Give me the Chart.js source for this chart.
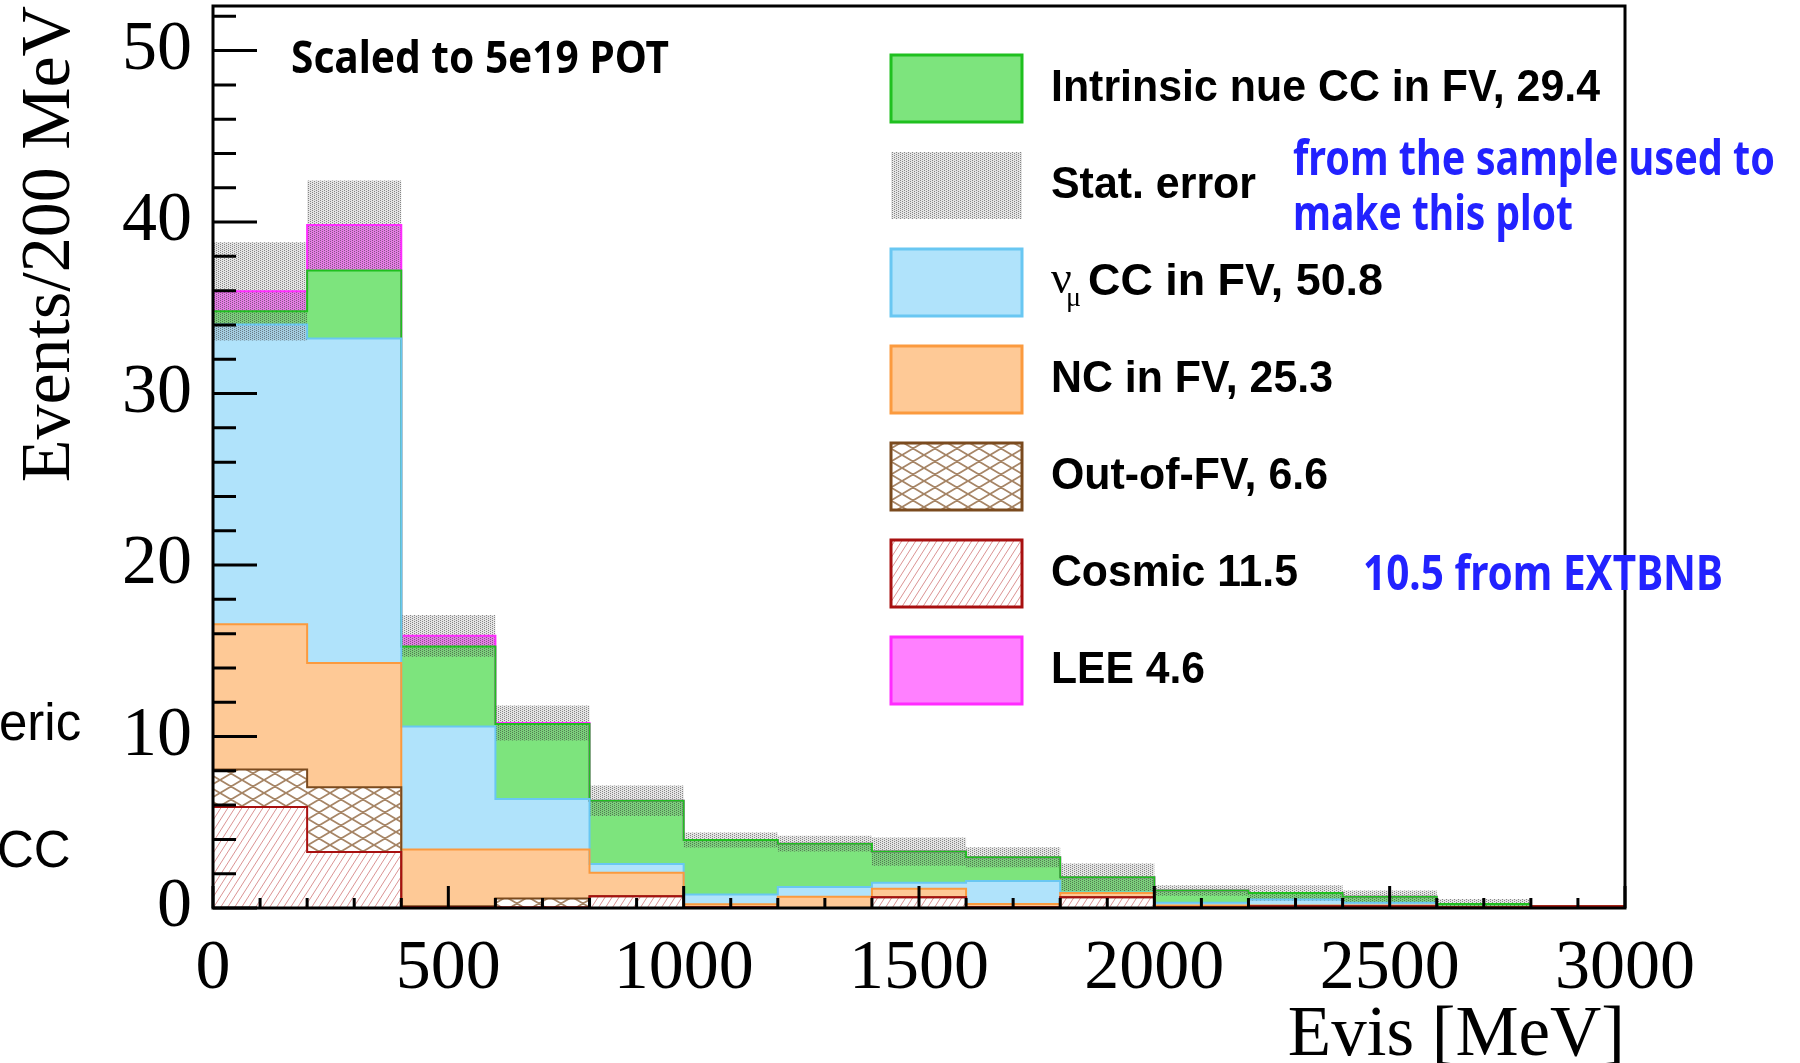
<!DOCTYPE html>
<html>
<head>
<meta charset="utf-8">
<title>Evis stacked histogram</title>
<script src="https://cdn.jsdelivr.net/npm/chart.js@4.4.1/dist/chart.umd.min.js"></script>
<style>
    html, body { margin: 0; padding: 0; background: #fff; }
    #wrap { width: 1800px; height: 1063px; }
</style>
</head>
<body>
<div id="wrap"><canvas id="evisChart" width="1800" height="1063"></canvas></div>
<script>
// 200 MeV bins from 0 to 3000 MeV
const binEdges = [0, 200, 400, 600, 800, 1000, 1200, 1400, 1600, 1800, 2000, 2200, 2400, 2600, 2800, 3000];

// Events per bin for each component (scaled to 5e19 POT), bottom of the stack first
const cosmic  = [5.89, 3.27, 0.05, 0.05, 0.69, 0.05, 0.00, 0.63, 0.05, 0.63, 0.05, 0.10, 0.10, 0.05, 0.10];
const outOfFV = [2.18, 3.77, 0.05, 0.50, 0.00, 0.00, 0.00, 0.00, 0.00, 0.00, 0.00, 0.00, 0.00, 0.00, 0.00];
const ncInFV  = [8.48, 7.24, 3.31, 2.86, 1.36, 0.17, 0.65, 0.49, 0.19, 0.25, 0.10, 0.05, 0.05, 0.00, 0.00];
const numuCC  = [17.47, 18.93, 7.18, 2.95, 0.52, 0.57, 0.58, 0.35, 1.34, 0.02, 0.15, 0.35, 0.15, 0.00, 0.00];
const nueCC   = [0.78, 3.97, 4.66, 4.37, 3.69, 3.18, 2.52, 1.82, 1.38, 0.89, 0.72, 0.38, 0.35, 0.19, 0.02];
const lee     = [1.16, 2.65, 0.62, 0.06, 0.00, 0.00, 0.00, 0.00, 0.00, 0.00, 0.00, 0.00, 0.00, 0.00, 0.00];
// statistical error on the total, per bin
const statErr = [2.86, 2.60, 1.22, 1.02, 0.89, 0.44, 0.46, 0.82, 0.58, 0.80, 0.30, 0.45, 0.37, 0.29, 0.02];

// Axis tick labels
const xTickValues = [0, 500, 1000, 1500, 2000, 2500, 3000];
const yTickValues = [0, 10, 20, 30, 40, 50];

// Legend labels, top to bottom
const legendLabels = [
    'Intrinsic nue CC in FV, 29.4',
    'Stat. error',
    'CC in FV, 50.8',
    'NC in FV, 25.3',
    'Out-of-FV, 6.6',
    'Cosmic 11.5',
    'LEE 4.6'
];

const canvas = document.getElementById('evisChart');
const ctx2d = canvas.getContext('2d');

/**
 * Build a repeating fill pattern from a small tile
 */
function makePattern(w, h, draw) {
    const tile = document.createElement('canvas');
    tile.width = w;
    tile.height = h;
    draw(tile.getContext('2d'), w, h);
    return ctx2d.createPattern(tile, 'repeat');
}

// grey stipple for the stat error band
const statPattern = makePattern(4, 4, function (g) {
    g.fillStyle = 'rgba(120,120,120,0.2)';
    g.fillRect(0, 0, 4, 4);
    g.fillStyle = 'rgba(40,40,40,0.5)';
    g.fillRect(0, 0, 1, 1);
    g.fillRect(2, 1, 1, 1);
    g.fillRect(0, 2, 1, 1);
    g.fillRect(2, 3, 1, 1);
});

// thin red "/" hatching for cosmics
const cosmicPattern = makePattern(7, 11, function (g, w, h) {
    g.strokeStyle = 'rgba(210,120,120,0.8)';
    g.lineWidth = 1;
    g.beginPath();
    g.moveTo(0, h); g.lineTo(w, 0);
    g.moveTo(-w, h); g.lineTo(0, 0);
    g.moveTo(w, h); g.lineTo(2 * w, 0);
    g.stroke();
});

// brown cross hatching for out-of-FV
const outFvPattern = makePattern(22, 13, function (g, w, h) {
    g.strokeStyle = 'rgba(150,112,75,0.85)';
    g.lineWidth = 1.8;
    g.beginPath();
    for (let k = -1; k <= 1; k++) {
        g.moveTo(k * w, h); g.lineTo((k + 1) * w, 0);
        g.moveTo(k * w, 0); g.lineTo((k + 1) * w, h);
    }
    g.stroke();
});

// cumulative tops of the stack
function addArrays(a, b) {
    return a.map(function (v, i) { return v + b[i]; });
}
const topCosmic = cosmic.slice();
const topOutFV = addArrays(topCosmic, outOfFV);
const topNC = addArrays(topOutFV, ncInFV);
const topNumu = addArrays(topNC, numuCC);
const topNue = addArrays(topNumu, nueCC);
const topLee = addArrays(topNue, lee);
const errHigh = topLee.map(function (v, i) { return v + statErr[i]; });
const errLow = topLee.map(function (v, i) { return Math.max(v - statErr[i], 0); });

// one point per lower bin edge plus the closing edge, drawn as a step line
function toSteps(values) {
    const pts = values.map(function (v, i) { return { x: binEdges[i], y: v }; });
    pts.push({ x: binEdges[binEdges.length - 1], y: values[values.length - 1] });
    return pts;
}

const styles = {
    lee:    { fill: '#ff80ff', line: '#ff2bff' },
    nue:    { fill: '#7de47d', line: '#1fc01f' },
    numu:   { fill: '#b0e3fb', line: '#69c7f2' },
    nc:     { fill: '#fec996', line: '#fb9a3e' },
    outFV:  { fill: outFvPattern, line: '#7a4a1e' },
    cosmic: { fill: cosmicPattern, line: '#a81010' },
    stat:   { fill: statPattern }
};

function layer(label, values, style, fillTarget) {
    return {
        label: label,
        data: toSteps(values),
        stepped: 'before',
        fill: fillTarget,
        backgroundColor: style.fill,
        borderColor: style.line || 'transparent',
        borderWidth: style.line ? 2 : 0,
        pointRadius: 0
    };
}

// lower index is painted later: error band over the fills, and each
// lower layer's outline over the one stacked above it
const datasets = [
    layer('Stat. error', errHigh, styles.stat, 1),
    layer('stat low', errLow, { fill: 'transparent' }, false),
    layer('Cosmic', topCosmic, styles.cosmic, 'origin'),
    layer('Out-of-FV', topOutFV, styles.outFV, 2),
    layer('NC in FV', topNC, styles.nc, 3),
    layer('numu CC in FV', topNumu, styles.numu, 4),
    layer('Intrinsic nue CC in FV', topNue, styles.nue, 5),
    layer('LEE', topLee, styles.lee, 6)
];

const legendStyles = [styles.nue, styles.stat, styles.numu, styles.nc, styles.outFV, styles.cosmic, styles.lee];

function fitText(ctx, text, x, y, width, font, color) {
    ctx.font = font;
    ctx.fillStyle = color;
    ctx.textAlign = 'left';
    ctx.textBaseline = 'middle';
    const w = ctx.measureText(text).width;
    ctx.save();
    ctx.translate(x, y);
    ctx.scale(width ? width / w : 1, 1);
    ctx.fillText(text, 0, 0);
    ctx.restore();
}

/**
 * Frame, inward ticks, legend and notes
 */
const rootStyle = {
    id: 'rootStyle',
    afterDatasetsDraw(chart) {
        const ctx = chart.ctx;
        const a = chart.chartArea;
        const xs = chart.scales.x;
        const ys = chart.scales.y;
        ctx.save();
        ctx.strokeStyle = '#000';
        ctx.lineWidth = 3;
        ctx.beginPath();
        for (let v = 0; v <= ys.max; v += 2) {
            const py = ys.getPixelForValue(v);
            const len = v % 10 === 0 ? 44 : 23;
            ctx.moveTo(a.left, py);
            ctx.lineTo(a.left + len, py);
        }
        for (let v = 0; v <= xs.max; v += 100) {
            const px = xs.getPixelForValue(v);
            const len = v % 500 === 0 ? 22 : 10;
            ctx.moveTo(px, a.bottom);
            ctx.lineTo(px, a.bottom - len);
        }
        ctx.stroke();
        ctx.strokeRect(a.left, a.top, a.right - a.left, a.bottom - a.top);
        ctx.restore();
    },
    afterDraw(chart) {
        const ctx = chart.ctx;
        ctx.save();

        // legend boxes
        const boxX = 891, boxW = 131, boxH = 67;
        const textX = 1051;
        const textWidths = [549, 205, 295, 282, 277, 247, 154];
        const labelFont = 'bold 44px "Liberation Sans", Arial, sans-serif';
        legendLabels.forEach(function (label, i) {
            const top = 55 + i * 97;
            const st = legendStyles[i];
            ctx.fillStyle = st.fill;
            ctx.fillRect(boxX, top, boxW, boxH);
            if (st.line) {
                ctx.strokeStyle = st.line;
                ctx.lineWidth = 3;
                ctx.strokeRect(boxX, top, boxW, boxH);
            }
            const cy = top + boxH / 2;
            if (i === 2) {
                ctx.fillStyle = '#000';
                ctx.textAlign = 'left';
                ctx.textBaseline = 'middle';
                ctx.font = '46px "Liberation Serif", serif';
                ctx.fillText('\u03bd', textX, cy - 2);
                ctx.font = '28px "Liberation Serif", serif';
                ctx.fillText('\u03bc', textX + 15, cy + 16);
                fitText(ctx, label, 1088, cy, textWidths[i], labelFont, '#000');
            } else {
                fitText(ctx, label, textX, cy, textWidths[i], labelFont, '#000');
            }
        });

        // notes
        const noteFont = 'bold 44px "Noto Sans", "Open Sans", sans-serif';
        const blueFont = 'bold 49px "Noto Sans", "Open Sans", sans-serif';
        fitText(ctx, 'Scaled to 5e19 POT', 291, 60, 378, noteFont, '#000');
        fitText(ctx, 'from the sample used to', 1293, 161, 482, blueFont, '#2222ff');
        fitText(ctx, 'make this plot', 1293, 216, 280, blueFont, '#2222ff');
        fitText(ctx, '10.5 from EXTBNB', 1363, 576, 360, blueFont, '#2222ff');

        ctx.font = '51px "Liberation Sans", Arial, sans-serif';
        ctx.fillStyle = '#000';
        ctx.textAlign = 'left';
        ctx.textBaseline = 'alphabetic';
        ctx.fillText('eric', -1, 740);
        ctx.fillText('CC', -3, 867);
        ctx.restore();
    }
};

const serif = '"Liberation Serif", "Times New Roman", serif';

new Chart(canvas, {
    type: 'line',
    data: { datasets: datasets },
    options: {
        responsive: false,
        animation: false,
        layout: { padding: { top: 6, right: 175, bottom: 0, left: 0 } },
        scales: {
            x: {
                type: 'linear',
                min: 0,
                max: 3000,
                grid: { display: false },
                border: { display: false },
                afterBuildTicks: function (scale) {
                    scale.ticks = xTickValues.map(function (v) { return { value: v }; });
                },
                afterFit: function (scale) {
                    scale.height = 155;
                    scale.paddingLeft = 0;
                    scale.paddingRight = 0;
                },
                ticks: {
                    autoSkip: false,
                    maxRotation: 0,
                    padding: 19,
                    color: '#000',
                    font: { family: serif, size: 70, lineHeight: 1 },
                    callback: function (v) { return String(v); }
                },
                title: {
                    display: true,
                    text: 'Evis [MeV]',
                    align: 'end',
                    color: '#000',
                    font: { family: serif, size: 71, lineHeight: 1 },
                    padding: { top: 0, bottom: -9 }
                }
            },
            y: {
                type: 'linear',
                min: 0,
                max: 52.6,
                grid: { display: false },
                border: { display: false },
                afterBuildTicks: function (scale) {
                    scale.ticks = yTickValues.map(function (v) { return { value: v }; });
                },
                afterFit: function (scale) {
                    scale.width = 213;
                    scale.paddingTop = 0;
                    scale.paddingBottom = 0;
                },
                ticks: {
                    padding: 13,
                    color: '#000',
                    font: { family: serif, size: 70, lineHeight: 1 },
                    callback: function (v) { return String(v); }
                },
                title: {
                    display: true,
                    text: 'Events/200 MeV',
                    align: 'end',
                    color: '#000',
                    font: { family: serif, size: 70, lineHeight: 1 },
                    padding: { top: 16, bottom: 0 }
                }
            }
        },
        plugins: {
            legend: { display: false },
            tooltip: { enabled: false },
            filler: { drawTime: 'beforeDatasetsDraw', propagate: false }
        }
    },
    plugins: [rootStyle]
});
</script>
</body>
</html>
